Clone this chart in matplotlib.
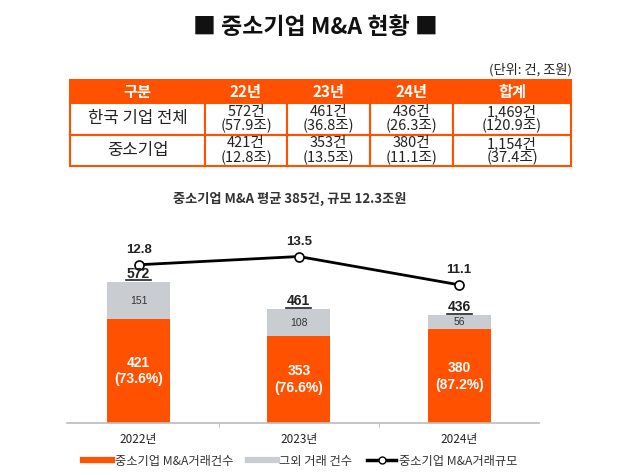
import matplotlib
matplotlib.use("Agg")
import matplotlib.pyplot as plt
from matplotlib.patches import Rectangle
from matplotlib.lines import Line2D

plt.rcParams['font.family'] = ['Noto Sans CJK KR', 'DejaVu Sans']

# ---- data ----
title = "■ 중소기업 M&A 현황 ■"
unit_note = "(단위: 건, 조원)"
table_header = ["구분", "22년", "23년", "24년", "합계"]
row_labels = ["한국 기업 전체", "중소기업"]
all_counts = ["572건", "461건", "436건", "1,469건"]
all_amounts = ["(57.9조)", "(36.8조)", "(26.3조)", "(120.9조)"]
sme_counts_txt = ["421건", "353건", "380건", "1,154건"]
sme_amounts_txt = ["(12.8조)", "(13.5조)", "(11.1조)", "(37.4조)"]
subtitle = "중소기업 M&A 평균 385건, 규모 12.3조원"

years = ["2022년", "2023년", "2024년"]
sme_counts = [421, 353, 380]
other_counts = [151, 108, 56]
sme_scale = [12.8, 13.5, 11.1]
legend_labels = ["중소기업 M&A거래건수", "그외 거래 건수", "중소기업 M&A거래규모"]

ORANGE = "#FF5100"
GRAY = "#C9CDD1"
TXT = "#222222"

W, H = 640, 475
fig = plt.figure(figsize=(W / 100, H / 100), dpi=100)

# ---- overlay in pixel coords ----
ov = fig.add_axes([0, 0, 1, 1])
ov.set_xlim(0, W)
ov.set_ylim(H, 0)
ov.axis('off')

ov.text(315, 27, title, ha='center', va='center', fontsize=16.5, fontweight='bold', color='#111111')
ov.text(572, 70, unit_note, ha='right', va='center', fontsize=9.5, color=TXT)

col_edges = [70, 205, 287, 370, 453, 571]
row_edges = [80, 103, 135, 166]

# header
ov.add_patch(Rectangle((col_edges[0], row_edges[0]), col_edges[-1] - col_edges[0],
                       row_edges[1] - row_edges[0], facecolor=ORANGE, edgecolor=ORANGE, lw=1.5))
for i, h in enumerate(table_header):
    cx = (col_edges[i] + col_edges[i + 1]) / 2
    ov.text(cx, (row_edges[0] + row_edges[1]) / 2, h, ha='center', va='center',
            fontsize=11, fontweight='bold', color='white')

# body grid
for r in range(2):
    for c in range(5):
        ov.add_patch(Rectangle((col_edges[c], row_edges[r + 1]), col_edges[c + 1] - col_edges[c],
                               row_edges[r + 2] - row_edges[r + 1], facecolor='white',
                               edgecolor=ORANGE, lw=1.5))

body = [(all_counts, all_amounts), (sme_counts_txt, sme_amounts_txt)]
for r, (cnts, amts) in enumerate(body):
    y0, y1 = row_edges[r + 1], row_edges[r + 2]
    cy = (y0 + y1) / 2
    ov.text((col_edges[0] + col_edges[1]) / 2, cy, row_labels[r], ha='center', va='center',
            fontsize=12, color=TXT)
    for c in range(4):
        cx = (col_edges[c + 1] + col_edges[c + 2]) / 2
        ov.text(cx, cy - 7, cnts[c], ha='center', va='center', fontsize=10.5, color=TXT)
        ov.text(cx, cy + 7, amts[c], ha='center', va='center', fontsize=10.5, color=TXT)

ov.text(290, 199, subtitle, ha='center', va='center', fontsize=9.5, fontweight='bold',
        fontstyle='italic', color='#333333')

# ---- chart ----
ax_left, ax_right, ax_bottom, ax_top = 67, 539, 423, 223
ax = fig.add_axes([ax_left / W, (H - ax_bottom) / H, (ax_right - ax_left) / W,
                   (ax_bottom - ax_top) / H])
ax.patch.set_alpha(0)
x = list(range(len(years)))
bw = 0.393
totals = [a + b for a, b in zip(sme_counts, other_counts)]
ax.bar(x, sme_counts, width=bw, color=ORANGE, zorder=2)
ax.bar(x, other_counts, width=bw, bottom=sme_counts, color=GRAY, zorder=2)
ax.set_xlim(-0.446, 2.498)
ax.set_ylim(0, 811)
for s in ['top', 'right', 'left']:
    ax.spines[s].set_visible(False)
ax.spines['bottom'].set_color('#BBBBBB')
ax.spines['bottom'].set_linewidth(1.2)
ax.set_yticks([])
ax.set_xticks(x)
ax.set_xticklabels(years, fontsize=8.5, color=TXT)
ax.tick_params(axis='x', which='major', length=0, pad=7)
ax.set_xticks([0.5, 1.5], minor=True)
ax.tick_params(axis='x', which='minor', length=3, color='#BBBBBB')

for i in x:
    pct = sme_counts[i] / totals[i] * 100
    ax.text(i, sme_counts[i] / 2, f"{sme_counts[i]}\n({pct:.1f}%)", ha='center', va='center',
            fontsize=10, fontweight='bold', color='white', family=['Liberation Sans'],
            linespacing=1.25)
    ax.text(i, sme_counts[i] + other_counts[i] / 2, f"{other_counts[i]}", ha='center',
            va='center', fontsize=7.5, color='#333333', family=['Liberation Sans'])

ax2 = ax.twinx()
ax2.set_ylim(-0.61, 16.34)
ax2.axis('off')
ax2.plot(x, sme_scale, color='black', lw=2, marker='o', markersize=6.5,
         markerfacecolor='white', markeredgecolor='black', markeredgewidth=1.2, zorder=3)
for i in x:
    ax2.annotate(f"{sme_scale[i]}", (i, sme_scale[i]), xytext=(0, 6), textcoords='offset points',
                 ha='center', va='bottom', fontsize=9.5, fontweight='bold', color=TXT,
                 family=['Liberation Sans'])
    # totals drawn above the line layer
    ax2.text(i, totals[i] + 17, f"{totals[i]}", ha='center', va='baseline', fontsize=10,
             fontweight='bold', color=TXT, family=['Liberation Sans'], transform=ax.transData,
             zorder=5)
    ax2.plot([i - 0.078, i + 0.078], [totals[i] + 7, totals[i] + 7], color=TXT, lw=1.2,
             transform=ax.transData, zorder=5)

handles = [Line2D([], [], color=ORANGE, lw=4.5),
           Line2D([], [], color=GRAY, lw=4.5),
           Line2D([], [], color='black', lw=2.5, marker='o', markersize=5,
                  markerfacecolor='white', markeredgecolor='black')]
fig.legend(handles, legend_labels, loc='center', bbox_to_anchor=(300 / W, 1 - 461 / H), ncol=3,
           frameon=False, fontsize=8.8, handlelength=2.4, handletextpad=0.2, columnspacing=1.2,
           labelcolor='#333333')

fig.savefig("out.png", dpi=100)
